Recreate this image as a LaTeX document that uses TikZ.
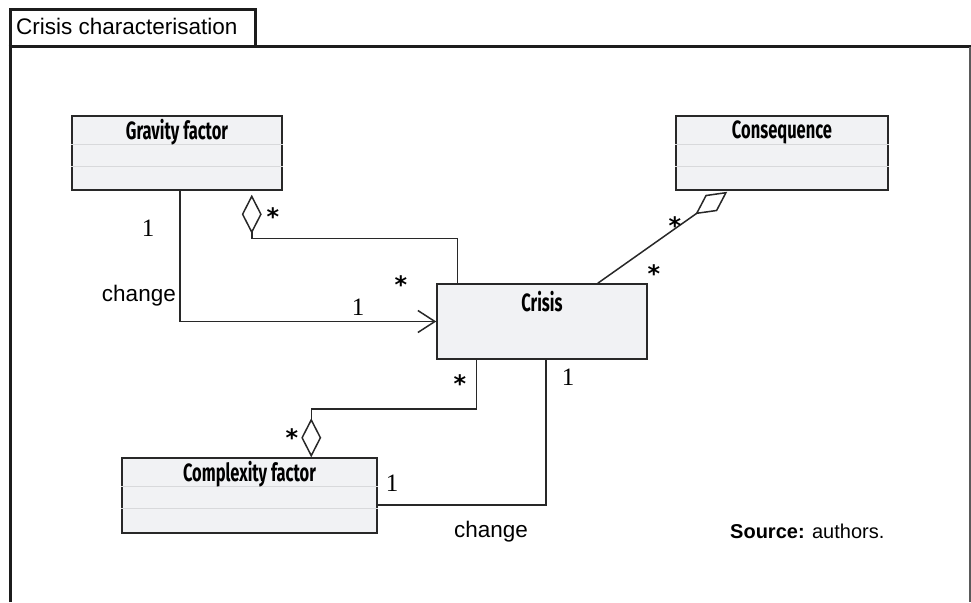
\documentclass[tikz,border=0pt]{standalone}
\usepackage{fontspec}
\setmainfont{Liberation Sans}
\newfontfamily\numfont{Liberation Serif}
\newfontfamily\starfont{DejaVu Sans}
\newfontfamily\classfont[FakeStretch=0.66]{Fira Sans}
\usetikzlibrary{positioning,arrows.meta,shadows}
\definecolor{boxfill}{RGB}{241,242,244}
\definecolor{boxline}{RGB}{40,40,40}
\definecolor{compline}{RGB}{216,217,219}
\definecolor{framedark}{RGB}{28,28,28}
\definecolor{frameside}{RGB}{90,90,90}

\tikzset{
  frame/.style={draw=framedark, line width=3pt},
  sideline/.style={draw=frameside, line width=1.5pt},
  umlclass/.style={draw=boxline, line width=1.5pt, fill=boxfill, inner sep=0pt,
    drop shadow={opacity=0.25, shadow xshift=1.2pt, shadow yshift=-1.2pt}},
  classname/.style={font=\classfont\bfseries\fontsize{25}{27}\selectfont, inner sep=0pt},
  comp/.style={draw=compline, line width=1pt},
  assoc/.style={draw=boxline, line width=1.5pt},
  aggr/.style={assoc, -{Diamond[open, length=39pt, width=20pt]}},
  navig/.style={assoc, -{Straight Barb[length=17pt, width=22pt]}},
  mult/.style={font=\starfont\bfseries\fontsize{24}{26}\selectfont, inner sep=0pt, anchor=north},
  one/.style={font=\numfont\fontsize{25}{27}\selectfont, inner sep=0pt},
  rolename/.style={font=\fontsize{22.5}{24}\selectfont, inner sep=0pt},
}

\begin{document}
\begin{tikzpicture}[x=1pt,y=-1pt]
\useasboundingbox (0,0) rectangle (971,602);
% Frame
\draw[frame] (10,602) -- (10,10) -- (255,10) -- (255,47); % tab
\draw[frame] (8.5,47) -- (971,47); % top line
\draw[sideline] (970,47) -- (970,602); % right side
\node[rolename, anchor=base west] (tabname) at (16,35) {Crisis characterisation};
% Classes
\node[umlclass, minimum width=210pt, minimum height=74pt] (grav) at (177,153) {};
\node[umlclass, minimum width=212pt, minimum height=74pt] (cons) at (782,153) {};
\node[umlclass, minimum width=210pt, minimum height=75pt] (crisis) at (542,321.5) {};
\node[umlclass, minimum width=255pt, minimum height=75pt] (cplx) at (249.5,495.5) {};
\foreach \c in {grav,cons,cplx}{
  \draw[comp] ([yshift=-29pt]\c.north west) -- ([yshift=-29pt]\c.north east); % attributes
  \draw[comp] ([yshift=-51pt]\c.north west) -- ([yshift=-51pt]\c.north east); % operations
}
\node[classname] (gravname) at ([yshift=-17pt]grav.north) {Gravity factor};
\node[classname] (consname) at ([yshift=-17pt]cons.north) {Consequence};
\node[classname] (crisisname) at ([yshift=-18pt]crisis.north) {Crisis};
\node[classname] (cplxname) at ([yshift=-17pt]cplx.north) {Complexity factor};
% Associations
\draw[navig] ([xshift=3pt]grav.south) |- (crisis.west); % change
\draw[aggr] ([xshift=21pt]crisis.north west) -- ++(0,-45) -| ([xshift=-31pt,yshift=-4pt]grav.south east);
\draw[aggr] ([xshift=-50pt]crisis.north east) -- ([xshift=52pt,yshift=-1pt]cons.south west);
\draw[aggr] ([xshift=40pt]crisis.south west) -- ++(0,49) -| ([xshift=190pt]cplx.north west);
\draw[assoc] ([xshift=4pt]crisis.south) |- ([yshift=-9.5pt]cplx.east); % change
% Multiplicities and roles
\node[one] (m1) at (148,228) {1};
\node[rolename, anchor=east] (r1) at (176,296) {change};
\node[mult] (m2) at (273,207) {*};
\node[mult] (m3) at (401,275) {*};
\node[one] (m4) at (358,307) {1};
\node[mult] (m5) at (675,216) {*};
\node[mult] (m6) at (654,264) {*};
\node[mult] (m7) at (460,374) {*};
\node[one] (m8) at (568,377) {1};
\node[mult] (m9) at (292,428) {*};
\node[one] (m10) at (392,483) {1};
\node[rolename] (r2) at (491,532) {change};
\node[anchor=west, font=\fontsize{20}{22}\selectfont, inner sep=0pt] (src) at (730,531) {\textbf{Source:} authors.};
\end{tikzpicture}
\end{document}
